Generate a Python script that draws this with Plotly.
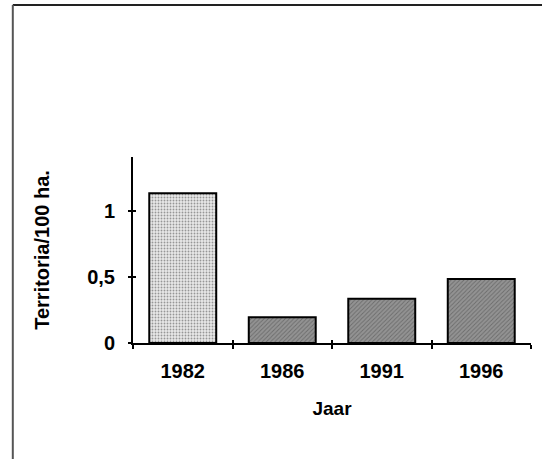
import plotly.graph_objects as go

years = ["1982", "1986", "1991", "1996"]
territoria = [1.135, 0.195, 0.335, 0.485]
y_ticks = [0, 0.5, 1]
y_tick_labels = ["0", "0,5", "1"]
y_max = 1.41

bar_colors = ["#e8e8e8", "#939393", "#939393", "#939393"]
pattern_shapes = [".", "/", "/", "/"]
pattern_fg = ["#d6d6d6", "#454545", "#454545", "#454545"]

FONT = "Liberation Sans, Arial, sans-serif"

fig = go.Figure()
fig.add_trace(go.Bar(
    x=years, y=territoria,
    marker=dict(
        color=bar_colors,
        line=dict(color="black", width=2),
        pattern=dict(shape=pattern_shapes, fgcolor=pattern_fg, size=3, solidity=0.3),
    ),
    showlegend=False,
))
# empty trace to carry overlay axes that draw the inner half of crossing ticks
fig.add_trace(go.Scatter(x=[], y=[], xaxis="x2", yaxis="y2", showlegend=False))

n = len(years)
boundaries = [i - 0.5 for i in range(n + 1)]

fig.update_layout(
    width=542, height=459,
    margin=dict(l=133, r=11, t=157, b=116),
    paper_bgcolor="white", plot_bgcolor="white",
    bargap=0.327,
    font=dict(family=FONT, color="black"),
    xaxis=dict(
        type="category", range=[-0.5, n - 0.5], automargin=False,
        showline=True, linecolor="black", linewidth=2,
        ticks="outside", tickson="boundaries", ticklen=4, tickwidth=2, tickcolor="black",
        tickfont=dict(family=FONT, size=20, weight="bold"),
        ticklabelstandoff=9,
        showgrid=False, zeroline=False,
        title=dict(text="Jaar", font=dict(family=FONT, size=19, weight="bold"), standoff=21),
    ),
    yaxis=dict(
        range=[0, y_max], automargin=False,
        showline=True, linecolor="black", linewidth=2,
        tickvals=y_ticks, ticktext=y_tick_labels,
        ticks="outside", ticklen=3, tickwidth=2, tickcolor="black",
        tickfont=dict(family=FONT, size=20, weight="bold"),
        ticklabelstandoff=9,
        showgrid=False, zeroline=False,
        title=dict(text="Territoria/100 ha.", font=dict(family=FONT, size=20, weight="bold"), standoff=32),
    ),
    xaxis2=dict(
        overlaying="x", range=[-0.5, n - 0.5], side="bottom", automargin=False,
        tickvals=boundaries, ticks="inside", ticklen=3, tickwidth=2, tickcolor="black",
        showticklabels=False, showline=False, showgrid=False, zeroline=False,
    ),
    yaxis2=dict(
        overlaying="y", range=[0, y_max], side="left", automargin=False,
        tickvals=y_ticks, ticks="inside", ticklen=3, tickwidth=2, tickcolor="black",
        showticklabels=False, showline=False, showgrid=False, zeroline=False,
    ),
    shapes=[
        dict(type="line", xref="paper", yref="paper",
             x0=-0.302, x1=1.1, y0=1.817, y1=1.817,
             line=dict(color="#222222", width=2)),
        dict(type="line", xref="paper", yref="paper",
             x0=-0.302, x1=-0.302, y0=-1.0, y1=1.817,
             line=dict(color="#555555", width=2)),
    ],
)

fig.write_html(
    "out.html",
    config={"displayModeBar": False},
    post_script="document.body.style.margin='0px';document.body.style.overflow='hidden';",
)
